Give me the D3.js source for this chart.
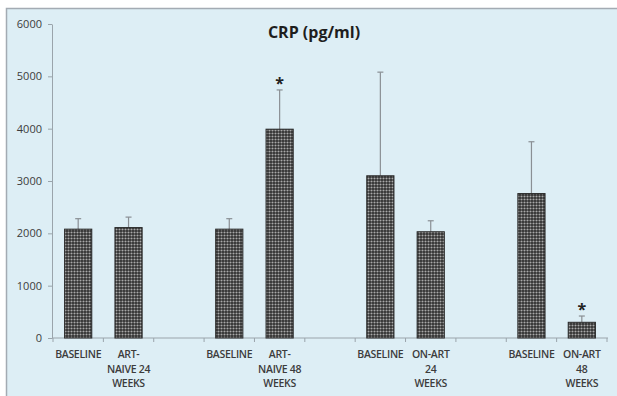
<!DOCTYPE html>
<html>
<head>
<meta charset="utf-8">
<script src="https://cdn.jsdelivr.net/npm/d3@7"></script>
<style>
  body { margin: 0; background: white; }
  .axis text { font-family: "Open Sans", sans-serif; fill: #3c3c3c; }
  .axis path, .axis line { stroke: #9aa4ab; }
</style>
</head>
<body>
<div id="chart"></div>
<script>
// category labels (blank slots separate the groups)
const categories = ["BASELINE", "ART-\nNAIVE 24\nWEEKS", "",
                    "BASELINE", "ART-\nNAIVE 48\nWEEKS", "",
                    "BASELINE", "ON-ART\n24\nWEEKS", "",
                    "BASELINE", "ON-ART\n48\nWEEKS"];
const values   = [2080, 2110, null, 2080, 3990, null, 3100, 2030, null, 2760, 300];
const errUpper = [200, 200, null, 200, 750, null, 1980, 210, null, 990, 120];
const signif   = [false, false, false, false, true, false, false, false, false, false, true];
const yTicks   = [0, 1000, 2000, 3000, 4000, 5000, 6000];

const W = 617, H = 396;
let svg = d3.select("#chart").append("svg")
  .attr("width", W)
  .attr("height", H);

// pattern fill for the bars
let defs = svg.append("defs");
let pat = defs.append("pattern")
  .attr("id", "dots")
  .attr("patternUnits", "userSpaceOnUse")
  .attr("width", 3)
  .attr("height", 3);
pat.append("rect").attr("width", 3).attr("height", 3).attr("fill", "#303030");
pat.append("circle").attr("cx", 1.5).attr("cy", 1.5).attr("r", 1.05).attr("fill", "#a9a9a9");

// chart area background with frame
svg.append("rect")
  .attr("x", 6.5).attr("y", 8.5)
  .attr("width", W).attr("height", H)
  .attr("fill", "#ddeef5")
  .attr("stroke", "#a3abb3")
  .attr("stroke-width", 1.5);

let margin = {top: 24, left: 52, right: 11, bottom: 58};
let plotW = W - margin.left - margin.right;
let plotH = H - margin.top - margin.bottom;

let g = svg.append("g")
  .attr("transform", "translate(" + margin.left + "," + margin.top + ")");

let x = d3.scaleBand()
  .domain(categories.map((d, i) => i))
  .range([1, plotW + 1])
  .paddingInner(0.46)
  .paddingOuter(0.23);
let y = d3.scaleLinear().domain([0, 6000]).range([plotH, 0]);

// y axis
let yAxis = g.append("g")
  .attr("class", "axis axis--y")
  .call(d3.axisLeft(y).tickValues(yTicks).tickFormat(d3.format("d"))
    .tickSize(4).tickPadding(6).tickSizeOuter(0));
yAxis.selectAll("text").style("font-size", "11px");

// x axis: ticks on category boundaries
let step = x.step();
let xg = g.append("g")
  .attr("class", "axis axis--x")
  .attr("transform", "translate(0," + plotH + ")");
xg.append("line")
  .attr("x1", 0).attr("x2", x(categories.length - 1) + x.bandwidth() + step * 0.23 + 1)
  .attr("y1", 0).attr("y2", 0);
let bounds = d3.range(categories.length + 1).map(i => 1 + i * step);
xg.selectAll(".btick")
  .data(bounds)
  .enter().append("line")
    .attr("class", "btick")
    .attr("x1", d => d).attr("x2", d => d)
    .attr("y1", 0).attr("y2", 4);

xg.selectAll(".xlabel")
  .data(categories)
  .enter().append("text")
    .attr("class", "xlabel")
    .attr("text-anchor", "middle")
    .style("font-size", "10.5px")
    .style("font-weight", "600")
    .style("letter-spacing", "-0.3px")
    .each(function(d, i) {
      let t = d3.select(this);
      d.split("\n").forEach((line, j) => {
        t.append("tspan")
          .attr("x", x(i) + x.bandwidth() / 2)
          .attr("y", 20 + j * 14.5)
          .text(line);
      });
    });

let data = categories.map((c, i) => ({i: i, v: values[i], e: errUpper[i], s: signif[i]}))
  .filter(d => d.v !== null);

// error bars (upper only)
let eb = g.selectAll(".err")
  .data(data)
  .enter().append("g")
    .attr("class", "err")
    .attr("stroke", "#8a8f94")
    .attr("stroke-width", 1.2);
eb.append("line")
  .attr("x1", d => x(d.i) + x.bandwidth() / 2)
  .attr("x2", d => x(d.i) + x.bandwidth() / 2)
  .attr("y1", d => y(d.v))
  .attr("y2", d => y(d.v + d.e));
eb.append("line")
  .attr("x1", d => x(d.i) + x.bandwidth() / 2 - 3)
  .attr("x2", d => x(d.i) + x.bandwidth() / 2 + 3)
  .attr("y1", d => y(d.v + d.e))
  .attr("y2", d => y(d.v + d.e));

// bars
g.selectAll(".bar")
  .data(data)
  .enter().append("rect")
    .attr("class", "bar")
    .attr("x", d => x(d.i))
    .attr("y", d => y(d.v))
    .attr("width", x.bandwidth())
    .attr("height", d => plotH - y(d.v))
    .attr("fill", "url(#dots)")
    .attr("stroke", "#2a2a2a")
    .attr("stroke-width", 1);

// significance markers
g.selectAll(".star")
  .data(data.filter(d => d.s))
  .enter().append("text")
    .attr("class", "star")
    .attr("x", d => x(d.i) + x.bandwidth() / 2)
    .attr("y", d => y(d.v + d.e) - 1)
    .attr("text-anchor", "middle")
    .style("font-family", "'Open Sans', sans-serif")
    .style("font-size", "16px")
    .style("font-weight", "bold")
    .attr("fill", "#222")
    .text("*");

// title
svg.append("text")
  .attr("x", 314)
  .attr("y", 38)
  .attr("text-anchor", "middle")
  .style("font-family", "'Open Sans', sans-serif")
  .style("font-size", "16px")
  .style("font-weight", "bold")
  .attr("fill", "#1e1e1e")
  .text("CRP (pg/ml)");
</script>
</body>
</html>
